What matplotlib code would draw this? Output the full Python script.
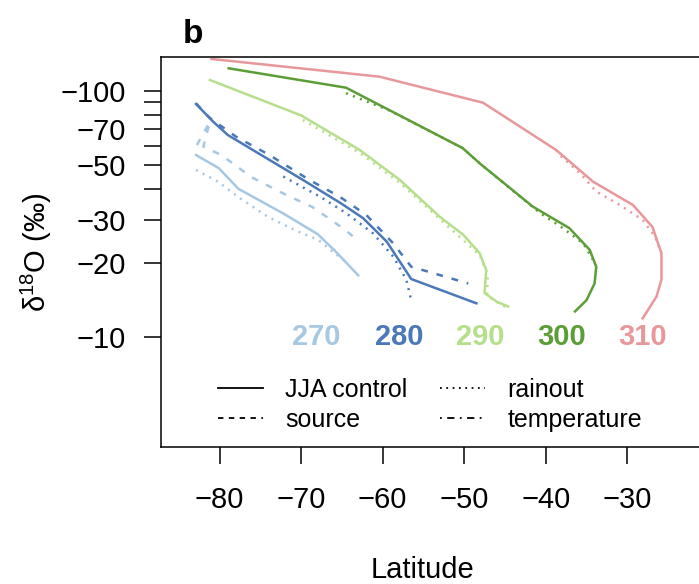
### d18O vs latitude, panel b ###

import numpy as np
import matplotlib.pyplot as plt
from matplotlib.lines import Line2D

plt.rcParams['font.family'] = ['Liberation Sans', 'DejaVu Sans']

# temperatures of the runs and their colours
temps = [270, 280, 290, 300, 310]
cols = ['#a7c8e2', '#4a78b8', '#b6df8c', '#5b9e37', '#e8979a']
lab_lat = [-68.1, -58.0, -48.0, -38.1, -28.1]

# JJA control (solid)
lat_ctl = {
    270: [-82.9, -80.1, -77.7, -72.3, -68.0, -65.8, -63.0],
    280: [-82.9, -80.8, -79.0, -69.8, -65.1, -62.4, -59.5, -56.5, -48.5],
    290: [-81.2, -70.0, -62.8, -57.9, -53.0, -50.1, -48.1, -47.3, -47.5, -46.0, -44.6],
    300: [-78.9, -64.5, -50.2, -48.1, -41.6, -37.1, -34.6, -33.8, -34.0, -35.0, -36.4],
    310: [-81.0, -60.4, -47.7, -38.7, -34.2, -29.3, -26.9, -25.8, -25.8, -26.4, -28.1],
}
d18_ctl = {
    270: [-54.9, -48.5, -40.0, -31.9, -26.2, -22.3, -17.8],
    280: [-88.5, -75.0, -66.2, -43.5, -34.9, -30.4, -24.4, -17.2, -13.7],
    290: [-110.8, -79.5, -57.5, -43.5, -30.8, -26.0, -21.9, -18.7, -15.1, -13.9, -13.3],
    300: [-123.6, -103.1, -58.6, -50.8, -33.9, -27.7, -22.6, -19.3, -16.5, -14.1, -12.7],
    310: [-134.9, -114.3, -89.6, -57.5, -42.8, -34.4, -28.0, -21.9, -17.1, -14.6, -11.9],
}

# source (dashed), only where it leaves the control curve
lat_src = {
    270: [-82.8, -81.2, -82.0, -79.8, -76.1, -72.4, -68.6, -65.1, -63.6],
    280: [-82.9, -81.2, -78.0, -73.9, -69.0, -65.3, -62.0, -58.7, -56.5, -49.5],
}
d18_src = {
    270: [-60.3, -75.0, -59.4, -54.9, -44.6, -38.6, -33.7, -28.0, -25.6],
    280: [-89.0, -77.6, -65.2, -54.9, -43.5, -37.2, -31.3, -24.0, -19.3, -16.5],
}

# rainout (dotted)
lat_rain = {
    270: [-82.9, -80.2, -77.8, -74.1, -70.8, -67.9, -65.9, -64.5],
    280: [-72.2, -67.7, -64.5, -61.2, -58.7, -57.1, -56.5],
    290: [-69.8, -62.8, -57.9, -53.0, -48.1, -47.1, -47.2, -44.4],
    300: [-64.5, -61.4, -59.3, -50.2, -48.1, -40.7, -37.9, -35.4, -34.2],
    310: [-38.7, -38.3, -35.8, -33.8, -30.9, -28.1, -26.6, -25.8],
}
d18_rain = {
    270: [-47.7, -42.8, -37.2, -30.8, -27.2, -24.8, -21.9, -20.2],
    280: [-44.9, -37.2, -31.9, -26.4, -21.2, -17.1, -14.1],
    290: [-76.2, -56.0, -42.3, -30.2, -21.5, -17.9, -14.7, -12.9],
    300: [-97.9, -89.1, -83.7, -58.6, -50.8, -31.9, -27.7, -24.0, -20.6],
    310: [-57.5, -54.9, -46.4, -39.0, -34.4, -29.9, -25.6, -21.9],
}

yticks = [-10, -20, -30, -40, -50, -60, -70, -80, -90, -100]
ylabs = ['\u221210', '\u221220', '\u221230', '', '\u221250', '', '\u221270', '', '', '\u2212100']
xticks = [-80, -70, -60, -50, -40, -30]

dash = (0, (2.7, 3.6))
dot = (0, (0.8, 2.2))

fig = plt.figure(figsize=(6.99, 5.84), dpi=100)
ax = fig.add_axes([161/699, 1-447/584, 547.7/699, 390/584])

lw = 1.8
for t, c in zip(temps, cols):
    if t in lat_src:
        ax.plot(lat_src[t], -np.array(d18_src[t]), color=c, lw=lw, linestyle=dash)
    ax.plot(lat_rain[t], -np.array(d18_rain[t]), color=c, lw=lw, linestyle=dot)
    ax.plot(lat_ctl[t], -np.array(d18_ctl[t]), color=c, lw=lw)

for t, c, xl in zip(temps, cols, lab_lat):
    ax.text(xl, 10, str(t), color=c, fontsize=21, fontweight='bold',
            ha='center', va='center')

ax.set_yscale('log')
ax.set_xlim(-87.2, -20)
ax.set_ylim(3.57, 137.4)
ax.set_yticks([-v for v in yticks])
ax.set_yticklabels(ylabs)
ax.yaxis.set_minor_locator(plt.NullLocator())
ax.set_xticks(xticks)

for s in ['left', 'top', 'bottom']:
    ax.spines[s].set_linewidth(1.1)
ax.spines['right'].set_visible(False)
ax.tick_params(axis='both', length=12, width=1.1, labelsize=21)
ax.tick_params(axis='y', pad=13)
ax.tick_params(axis='x', pad=16)

ax.set_xlabel('Latitude', fontsize=21)
ax.xaxis.set_label_coords(0.478, -0.28)
ax.set_ylabel('$\\mathregular{\\delta^{18}}$O (\u2030)', fontsize=21)
ax.yaxis.set_label_coords(-0.195, 0.5)

handles = [Line2D([], [], color='k', lw=1.3),
           Line2D([], [], color='k', lw=1.3, linestyle=(0, (3, 3))),
           Line2D([], [], color='k', lw=1.3, linestyle=(0, (1, 2.5))),
           Line2D([], [], color='k', lw=1.3, linestyle=(0, (1, 3, 4, 3)))]
labels = ['JJA control', 'source', 'rainout', 'temperature']
ax.legend(handles, labels, ncol=2, frameon=False, fontsize=18,
          loc='upper left', bbox_to_anchor=(0.104, 0.177), borderpad=0,
          borderaxespad=0, handlelength=1.8, handletextpad=0.9,
          columnspacing=1.3, labelspacing=0.25)

fig.text(183/699, 1-43/584, 'b', fontsize=24, fontweight='bold', va='baseline')

fig.savefig('out.png', dpi=fig.dpi)
